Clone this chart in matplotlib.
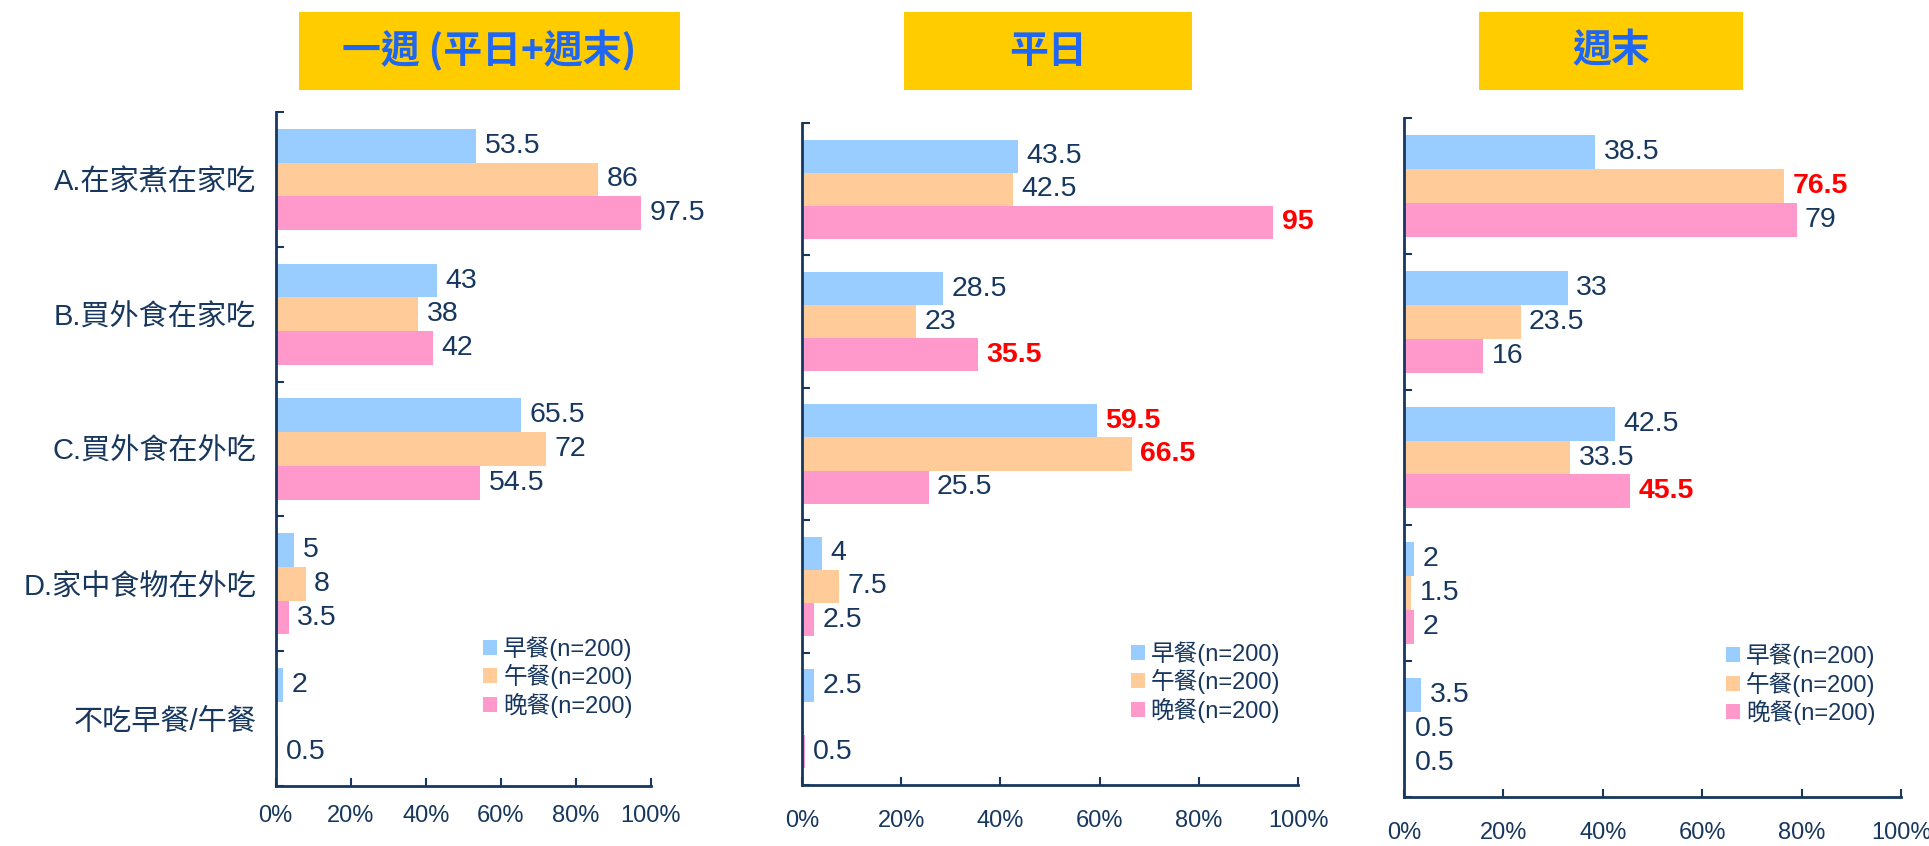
import numpy as np
import matplotlib
matplotlib.use('Agg')
import matplotlib.pyplot as plt
from matplotlib.patches import Rectangle

plt.rcParams['font.family'] = ['Liberation Sans', 'Noto Sans CJK TC']

# =====================================================================
# Data (percent of respondents, n=200)
# =====================================================================
categories = ['A.在家煮在家吃', 'B.買外食在家吃', 'C.買外食在外吃', 'D.家中食物在外吃', '不吃早餐/午餐']
series_names = ['早餐(n=200)', '午餐(n=200)', '晚餐(n=200)']
panel_titles = ['一週 (平日+週末)', '平日', '週末']

# rows = categories, columns = breakfast / lunch / dinner
week_vals = [[53.5, 86, 97.5], [43, 38, 42], [65.5, 72, 54.5], [5, 8, 3.5], [2, np.nan, 0.5]]
weekday_vals = [[43.5, 42.5, 95], [28.5, 23, 35.5], [59.5, 66.5, 25.5], [4, 7.5, 2.5], [2.5, np.nan, 0.5]]
weekend_vals = [[38.5, 76.5, 79], [33, 23.5, 16], [42.5, 33.5, 45.5], [2, 1.5, 2], [3.5, 0.5, 0.5]]

# (category, series) of the values printed in red
week_red = []
weekday_red = [(0, 2), (1, 2), (2, 0), (2, 1)]
weekend_red = [(0, 1), (2, 2)]

xticks = [0, 20, 40, 60, 80, 100]
xtick_labels = ['0%', '20%', '40%', '60%', '80%', '100%']

# =====================================================================
# Styling / layout
# =====================================================================
colors = ['#99CCFF', '#FFCC99', '#FF99CC']
navy = '#17375E'
title_blue = '#1F66F2'
bar_h = 0.25

panels = [week_vals, weekday_vals, weekend_vals]
reds = [week_red, weekday_red, weekend_red]
axes_rects = [[0.1429, 0.0709, 0.1945, 0.7967],
              [0.4158, 0.0721, 0.2571, 0.7825],
              [0.7278, 0.0579, 0.2577, 0.8026]]
title_boxes = [[0.155, 0.8936, 0.1975, 0.0922],
               [0.4686, 0.8936, 0.1493, 0.0922],
               [0.7667, 0.8936, 0.1371, 0.0922]]
legend_anchor = [(0.2505, 0.2482), (0.5861, 0.2423), (0.8948, 0.2395)]
xlabel_pad = [14, 18, 18]

fig = plt.figure(figsize=(19.29, 8.46), dpi=100)

for k in range(3):
    ax = fig.add_axes(axes_rects[k])
    vals = np.array(panels[k], dtype=float)
    y = np.arange(len(categories))

    for j in range(3):
        pos = y + (j - 1) * bar_h
        ax.barh(pos, np.nan_to_num(vals[:, j]), height=bar_h, color=colors[j],
                label=series_names[j], linewidth=0)
        for i in range(len(categories)):
            v = vals[i, j]
            if np.isnan(v):
                continue
            is_red = (i, j) in reds[k]
            ax.annotate(f'{v:g}', (v, pos[i]), xytext=(6, 0), textcoords='offset points',
                        ha='left', va='center', fontsize=20.5,
                        color='#FF0000' if is_red else navy,
                        fontweight='bold' if is_red else 'normal')

    ax.set_xlim(0, 100)
    ax.set_ylim(len(categories) - 0.5, -0.5)

    for side in ['top', 'right']:
        ax.spines[side].set_visible(False)
    for side in ['left', 'bottom']:
        ax.spines[side].set_color(navy)
        ax.spines[side].set_linewidth(2)

    ax.set_xticks(xticks)
    ax.set_xticklabels(xtick_labels, fontsize=17)
    ax.tick_params(axis='x', direction='in', length=6, width=1.5, color=navy,
                   labelcolor=navy, pad=xlabel_pad[k])

    ax.set_yticks(y)
    if k == 0:
        ax.set_yticklabels(categories, fontsize=21)
    else:
        ax.set_yticklabels([])
    ax.tick_params(axis='y', which='major', length=0, pad=14, labelcolor=navy)
    ax.set_yticks(np.arange(-0.5, len(categories), 1), minor=True)
    ax.tick_params(axis='y', which='minor', direction='in', length=6, width=1.5, color=navy)

    leg = ax.legend(loc='upper left', bbox_to_anchor=legend_anchor[k],
                    bbox_transform=fig.transFigure, frameon=False,
                    prop={'family': ['Liberation Sans', 'Noto Sans CJK TC'], 'size': 17},
                    handlelength=0.6, handleheight=0.6, handletextpad=0.25,
                    labelspacing=0.15, borderpad=0, borderaxespad=0)
    for t in leg.get_texts():
        t.set_color(navy)

    # yellow title box
    bx, by, bw, bh = title_boxes[k]
    fig.patches.append(Rectangle((bx, by), bw, bh, transform=fig.transFigure,
                                 facecolor='#FFCC00', edgecolor='none'))
    fig.text(bx + bw / 2, by + bh / 2, panel_titles[k], ha='center', va='center',
             fontsize=28, fontweight='bold', color=title_blue,
             family=['Noto Sans CJK TC', 'DejaVu Sans'])

plt.savefig('out.png', dpi=100)
